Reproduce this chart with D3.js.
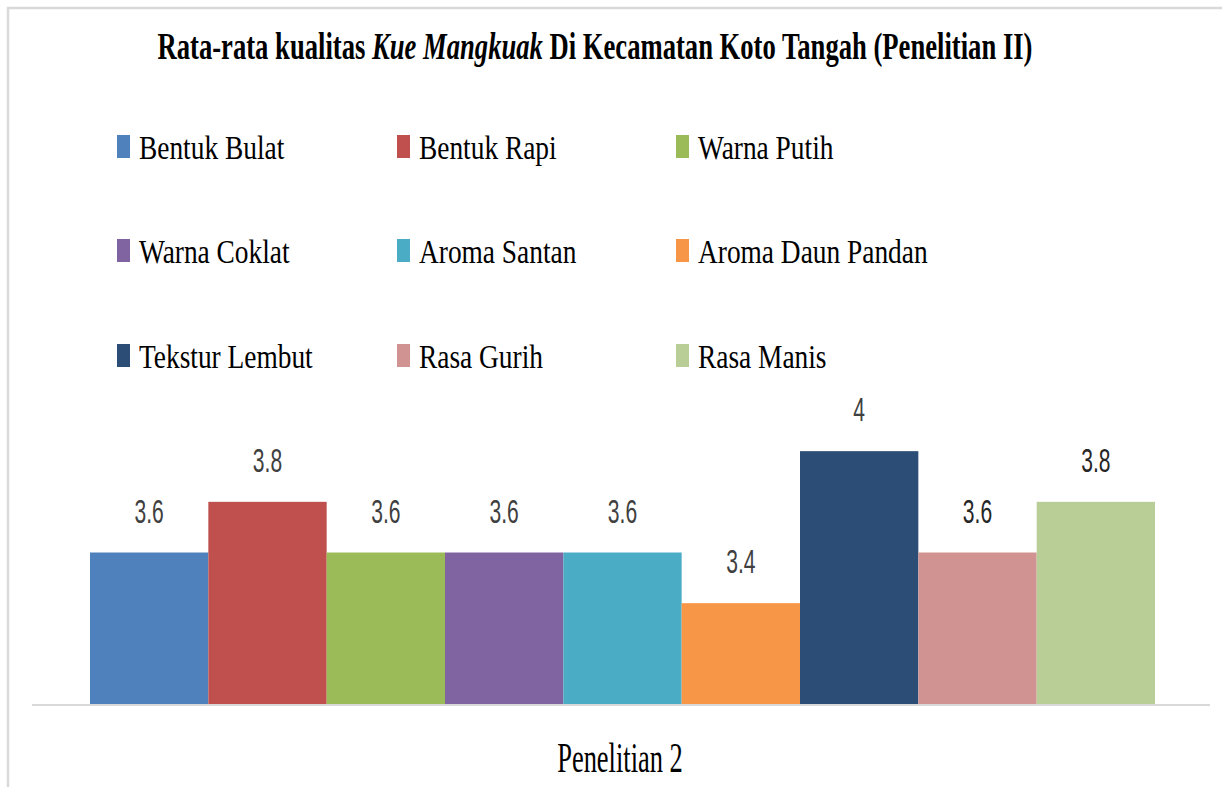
<!DOCTYPE html>
<html>
<head>
<meta charset="utf-8">
<script src="https://cdn.jsdelivr.net/npm/d3@7"></script>
<style>
  body { margin: 0; background: #fff; }
</style>
</head>
<body>
<script>
// data
var categories = ["Bentuk Bulat", "Bentuk Rapi", "Warna Putih", "Warna Coklat", "Aroma Santan",
                  "Aroma Daun Pandan", "Tekstur Lembut", "Rasa Gurih", "Rasa Manis"];
var values = [3.6, 3.8, 3.6, 3.6, 3.6, 3.4, 4, 3.6, 3.8];
var colors = ["#4f81bd", "#c0504d", "#9bbb59", "#8064a2", "#4bacc6",
              "#f79646", "#2c4d75", "#d19392", "#b9cd96"];
var labelColors = ["#404040", "#404040", "#404040", "#404040", "#404040",
                   "#404040", "#404040", "#262626", "#262626"];
var groupName = "Penelitian 2";
var yDomain = [3, 4.2];

var width = 1222;
var height = 787;

var svg = d3.select("body")
        .append("svg")
        .attr("width", width)
        .attr("height", height);

// chart frame (only left + top visible in the picture)
svg.append("path")
    .attr("d", "M8," + height + "L8,8L" + width + ",8")
    .attr("fill", "none")
    .attr("stroke", "#d9d9d9")
    .attr("stroke-width", 2.5);

var xScale = d3.scaleBand()
        .domain(categories)
        .range([90, 1155])
        .padding(0);

var yScale = d3.scaleLinear()
        .domain(yDomain)
        .range([704.5, 400.5]);

// squeezed text helper - the original fonts look narrowed
function squeezed(sel, x, y, sx) {
    return sel.attr("transform", "translate(" + x + "," + y + ") scale(" + sx + ",1)");
}

// title
var title = svg.append("text")
    .attr("text-anchor", "middle")
    .style("font-family", "'Liberation Serif', 'Times New Roman', serif")
    .style("font-weight", "bold")
    .style("font-size", "37px")
    .attr("fill", "#000");
squeezed(title, 595, 59, 0.72);
title.append("tspan").text("Rata-rata kualitas ");
title.append("tspan").style("font-style", "italic").text("Kue Mangkuak");
title.append("tspan").text(" Di Kecamatan Koto Tangah (Penelitian II)");

// legend, 3 per row
var legendCols = [117, 397, 676];
var legendRows = [159, 263, 368];
var legend = svg.append("g")
    .selectAll("g")
    .data(categories)
    .join("g")
    .attr("transform", function(d, i) {
        return "translate(" + legendCols[i % 3] + "," + legendRows[Math.floor(i / 3)] + ")";
    });

legend.append("rect")
    .attr("x", 0)
    .attr("y", -24)
    .attr("width", 13)
    .attr("height", 23)
    .attr("fill", function(d, i) { return colors[i]; });

legend.append("text")
    .attr("transform", "translate(22,0) scale(0.83,1)")
    .style("font-family", "'Liberation Serif', 'Times New Roman', serif")
    .style("font-size", "33px")
    .attr("fill", "#000")
    .text(function(d) { return d; });

// bars
svg.append("g")
    .selectAll("rect")
    .data(values)
    .join("rect")
    .attr("x", function(d, i) { return xScale(categories[i]); })
    .attr("y", function(d) { return yScale(d); })
    .attr("width", xScale.bandwidth())
    .attr("height", function(d) { return yScale(yDomain[0]) - yScale(d); })
    .attr("fill", function(d, i) { return colors[i]; });

// data labels
svg.append("g")
    .selectAll("text")
    .data(values)
    .join("text")
    .attr("transform", function(d, i) {
        return "translate(" + (xScale(categories[i]) + xScale.bandwidth() / 2) + "," + (yScale(d) - 30) + ") scale(0.62,1)";
    })
    .attr("text-anchor", "middle")
    .style("font-family", "'Liberation Sans', Arial, sans-serif")
    .style("font-size", "34px")
    .attr("fill", function(d, i) { return labelColors[i]; })
    .text(function(d) { return d3.format("")(d); });

// category axis line
svg.append("line")
    .attr("x1", 32)
    .attr("x2", 1210)
    .attr("y1", yScale(yDomain[0]) + 0.5)
    .attr("y2", yScale(yDomain[0]) + 0.5)
    .attr("stroke", "#d9d9d9")
    .attr("stroke-width", 2);

var xLabel = svg.append("text")
    .attr("text-anchor", "middle")
    .style("font-family", "'Liberation Serif', 'Times New Roman', serif")
    .style("font-size", "42px")
    .attr("fill", "#000")
    .text(groupName);
squeezed(xLabel, 620, 772, 0.63);
</script>
</body>
</html>
